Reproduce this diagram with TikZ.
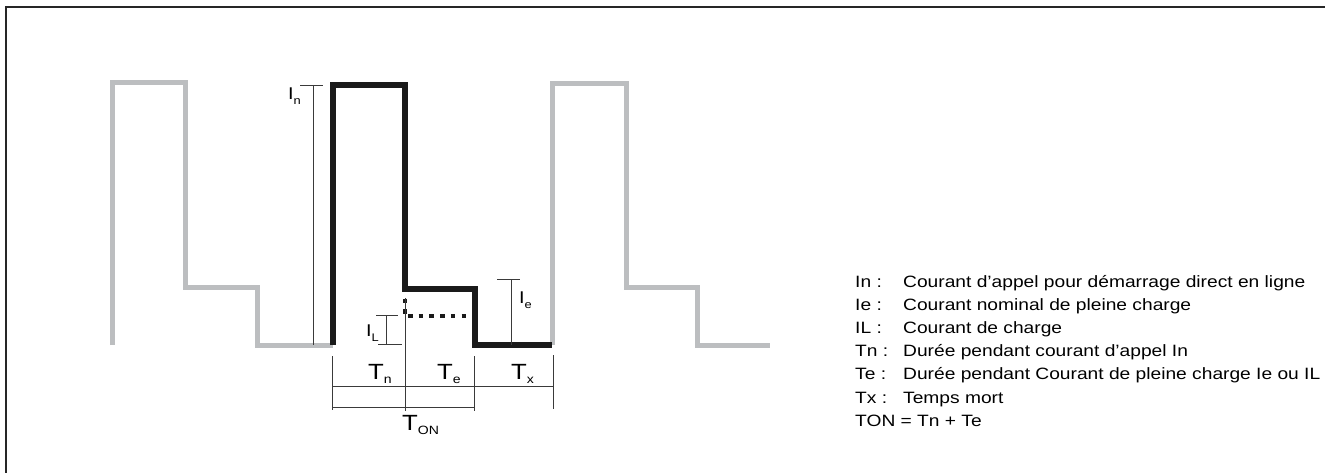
\documentclass[tikz,border=0pt]{standalone}
\usepackage{fontspec}
\setmainfont{Liberation Sans}
\usepackage{graphicx}
\definecolor{wavegrey}{HTML}{BCBEC0}
\definecolor{wavebk}{HTML}{1A1A1A}
\definecolor{dimgrey}{HTML}{3A3A3A}
\newcommand{\wide}[1]{\scalebox{1.17}[1]{#1}}
\newcommand{\ilab}[2]{\wide{\fontsize{17}{17}\selectfont #1\raisebox{-5pt}{\fontsize{11}{11}\selectfont #2}}}
\newcommand{\tlab}[2]{\wide{\fontsize{22}{22}\selectfont #1\raisebox{-4pt}{\fontsize{12}{12}\selectfont #2}}}
\tikzset{
  greywave/.style={draw=wavegrey, line width=5pt},
  blackwave/.style={draw=wavebk, line width=5.2pt},
  dotwave/.style={draw=wavebk, line width=4.5pt, dash pattern=on 4.5pt off 6.2pt},
  dimline/.style={draw=dimgrey, line width=0.9pt},
  framel/.style={draw=black!85, line width=1.6pt},
  lbl/.style={inner sep=0pt, anchor=base west},
  legend/.style={inner sep=0pt, anchor=base west, font=\fontsize{16.4}{16.4}\selectfont},
}
\begin{document}
\begin{tikzpicture}[x=1pt,y=-1pt]
\useasboundingbox (0,0) rectangle (1325,473);
% frame (top and left edges)
\coordinate (fbl) at (6,473);
\coordinate (ftl) at (6,7);
\coordinate (ftr) at (1325,7);
\draw[framel] (fbl) -- (ftl) -- (ftr);

% grey pulse 1
\draw[greywave] (112,345) -- (112,83) -- (185,83) -- (185,287) -- (257,287) -- (257,345) -- (333,345);
% grey pulse 2
\draw[greywave] (552,345) -- (552,84) -- (626,84) -- (626,287) -- (697,287) -- (697,345) -- (770,345);
% black pulse
\draw[blackwave] (333,345) -- (333,85) -- (405,85) -- (405,289) -- (475,289) -- (475,345) -- (552,345);
% dotted load current
\coordinate (dv1) at (405,298.5);
\coordinate (dv2) at (405,315);
\coordinate (dh1) at (408,316);
\coordinate (dh2) at (468,316);
\draw[dotwave] (dv1) -- (dv2);
\draw[dotwave] (dh1) -- (dh2);

% dimension In
\coordinate (inT) at (313,85);
\coordinate (inB) at (313,345);
\draw[dimline] (300,85) -- (323,85);
\draw[dimline] (inT) -- (inB);
\node[lbl] (In) at (288,100) {\ilab{I}{n}};

% dimension IL
\draw[dimline] (376,315) -- (398,315);
\draw[dimline] (378,344) -- (402,344);
\draw[dimline] (386,315) -- (386,344);
\node[lbl] (IL) at (366,336) {\ilab{I}{L}};

% centre line
\coordinate (cT) at (405,298);
\coordinate (cB) at (405,411);
\draw[dimline] (cT) -- (cB);

% dimension Ie
\draw[dimline] (497,279) -- (520,279);
\draw[dimline] (511,279) -- (511,345);
\node[lbl] (Ie) at (519,303) {\ilab{I}{e}};

% time brackets
\coordinate (t0T) at (332,356);
\coordinate (t0B) at (332,410);
\coordinate (t1T) at (474,356);
\coordinate (t1B) at (474,411);
\coordinate (t2T) at (553,355);
\coordinate (t2B) at (553,409);
\draw[dimline] (t0T) -- (t0B);
\draw[dimline] (t1T) -- (t1B);
\draw[dimline] (t2T) -- (t2B);
\draw[dimline] (332,386) -- (553,386);
\draw[dimline] (332,407) -- (474,407);
\node[lbl] (Tn) at (368,379) {\tlab{T}{n}};
\node[lbl] (Te) at (437,379) {\tlab{T}{e}};
\node[lbl] (Tx) at (511,379) {\tlab{T}{x}};
\node[lbl] (Ton) at (402,430) {\tlab{T}{ON}};

% legend
\foreach \k/\a/\b in {0/In :/Courant d’appel pour démarrage direct en ligne,
                      1/Ie :/Courant nominal de pleine charge,
                      2/IL :/Courant de charge,
                      3/Tn :/Durée pendant courant d’appel In,
                      4/Te :/Durée pendant Courant de pleine charge Ie ou IL,
                      5/Tx :/Temps mort}{
  \node[legend] (la\k) at (855,287+23.2*\k) {\wide{\a}};
  \node[legend] (lb\k) at (903,287+23.2*\k) {\wide{\b}};
}
\node[legend] (la6) at (855,287+23.2*6) {\wide{TON = Tn + Te}};
\end{tikzpicture}
\end{document}
